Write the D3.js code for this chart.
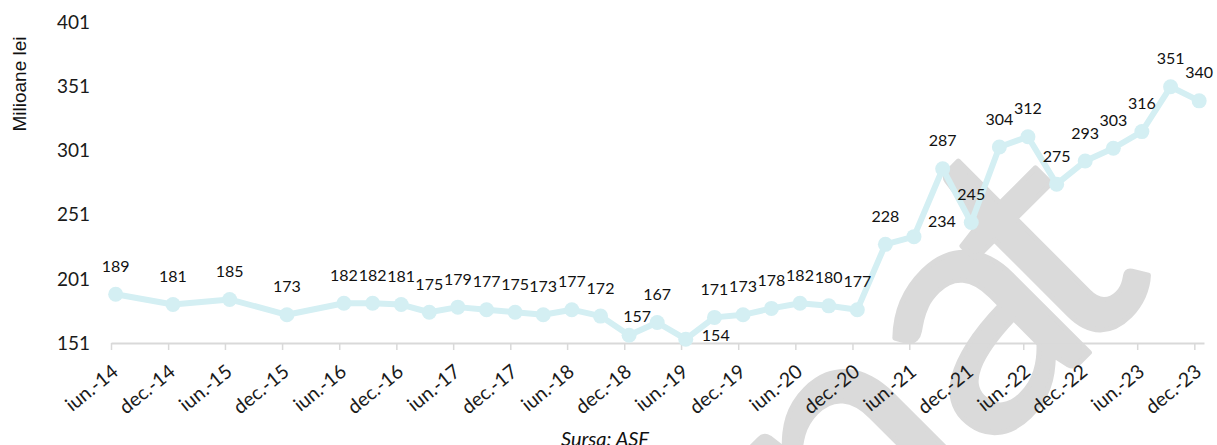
<!DOCTYPE html>
<html>
<head>
<meta charset="utf-8">
<script src="https://cdn.jsdelivr.net/npm/d3@7"></script>
<style>
  body { margin: 0; background: #fff; }
  svg { display: block; }
</style>
</head>
<body>
<svg id="chart" width="1217" height="445"></svg>
<script>
// months (yyyy-mm) of each observation, semiannual first, then quarterly
var months = ["2014-06", "2014-12", "2015-06", "2015-12",
  "2016-06", "2016-09", "2016-12", "2017-03", "2017-06", "2017-09", "2017-12",
  "2018-03", "2018-06", "2018-09", "2018-12", "2019-03", "2019-06", "2019-09",
  "2019-12", "2020-03", "2020-06", "2020-09", "2020-12", "2021-03", "2021-06",
  "2021-09", "2021-12", "2022-03", "2022-06", "2022-09", "2022-12", "2023-03",
  "2023-06", "2023-09", "2023-12"];
var values = [189, 181, 185, 173, 182, 182, 181, 175, 179, 177, 175, 173, 177, 172,
  157, 167, 154, 171, 173, 178, 182, 180, 177, 228, 234, 287, 245, 304, 312, 275,
  293, 303, 316, 351, 340];

var xTickMonths = ["2014-06", "2014-12", "2015-06", "2015-12", "2016-06", "2016-12",
  "2017-06", "2017-12", "2018-06", "2018-12", "2019-06", "2019-12", "2020-06",
  "2020-12", "2021-06", "2021-12", "2022-06", "2022-12", "2023-06", "2023-12"];
var xTickLabels = ["iun.-14", "dec.-14", "iun.-15", "dec.-15", "iun.-16", "dec.-16",
  "iun.-17", "dec.-17", "iun.-18", "dec.-18", "iun.-19", "dec.-19", "iun.-20",
  "dec.-20", "iun.-21", "dec.-21", "iun.-22", "dec.-22", "iun.-23", "dec.-23"];
var yTicks = [151, 201, 251, 301, 351, 401];

var yTitle = "Milioane lei";
var source = "Sursa: ASF";

var svg = d3.select("#chart");
var parseMonth = d3.timeParse("%Y-%m");

// some labels were dragged by hand in the original
var labelNudge = { 14: [8, 9], 16: [30, 24], 24: [28, 13] };

var x = d3.scaleTime()
  .domain([parseMonth("2014-06"), parseMonth("2024-01")])
  .range([111, 1204]);
var y = d3.scaleLinear().domain([151, 401]).range([343, 22.7]);

// point sits in the middle of its month slot
function midMonth(m) {
  var d = parseMonth(m);
  return (x(d) + x(d3.timeMonth.offset(d, 1))) / 2;
}

var data = months.map(function(m, i) { return { m: m, v: values[i], i: i }; });

// watermark behind everything
var wm = svg.append("text")
  .attr("transform", "translate(1160,282) rotate(-45)")
  .attr("text-anchor", "end")
  .style("font-family", "Lato, 'Open Sans', sans-serif")
  .style("font-size", "340px")
  .style("fill", "#dadada")
  .style("stroke", "#dadada")
  .style("stroke-width", 5)
  .style("stroke-linejoin", "round");
wm.append("tspan").text("na");
wm.append("tspan").attr("dx", -42).text("t");

// x axis
var xAxis = svg.append("g")
  .attr("transform", "translate(0,343)")
  .call(d3.axisBottom(x)
    .tickValues(xTickMonths.map(parseMonth))
    .tickSize(7)
    .tickSizeOuter(0)
    .tickFormat(function(d, i) { return xTickLabels[i]; }));
xAxis.select(".domain").attr("stroke", "#d9d9d9").attr("stroke-width", 2);
xAxis.selectAll(".tick line").attr("stroke", "#d9d9d9").attr("stroke-width", 1.5);
xAxis.selectAll(".tick text")
  .attr("y", 0).attr("dy", 0)
  .attr("text-anchor", "end")
  .attr("transform", "translate(8,31) rotate(-39)")
  .style("font-family", "Lato, sans-serif")
  .style("font-size", "19.5px")
  .style("fill", "#1a1a1a");

// y axis labels only
var yAxis = svg.append("g")
  .attr("transform", "translate(90,0)")
  .call(d3.axisLeft(y).tickValues(yTicks).tickSize(0).tickPadding(0));
yAxis.select(".domain").remove();
yAxis.selectAll(".tick text")
  .style("font-family", "Lato, sans-serif")
  .style("font-size", "19px")
  .style("fill", "#1a1a1a");

svg.append("text")
  .attr("transform", "translate(26,84) rotate(-90)")
  .attr("text-anchor", "middle")
  .style("font-family", "'Liberation Sans', Arial, sans-serif")
  .style("font-size", "19px")
  .style("fill", "#111")
  .text(yTitle);

// the line
var line = d3.line()
  .x(function(d) { return midMonth(d.m); })
  .y(function(d) { return y(d.v); });

svg.append("path")
  .datum(data)
  .attr("fill", "none")
  .attr("stroke", "#d4eff3")
  .attr("stroke-width", 6)
  .attr("stroke-linejoin", "round")
  .attr("d", line);

svg.selectAll(".dot")
  .data(data)
  .enter().append("circle")
  .attr("class", "dot")
  .attr("cx", function(d) { return midMonth(d.m); })
  .attr("cy", function(d) { return y(d.v); })
  .attr("r", 7.5)
  .attr("fill", "#d4eff3");

svg.selectAll(".lbl")
  .data(data)
  .enter().append("text")
  .attr("class", "lbl")
  .attr("x", function(d) {
    var n = labelNudge[d.i];
    return midMonth(d.m) + (n ? n[0] : 0);
  })
  .attr("y", function(d) {
    var n = labelNudge[d.i];
    return y(d.v) - 28 + (n ? n[1] : 0);
  })
  .attr("dy", "0.35em")
  .attr("text-anchor", "middle")
  .style("font-family", "Lato, sans-serif")
  .style("font-size", "16px")
  .style("fill", "#111")
  .text(function(d) { return d.v; });

svg.append("text")
  .attr("x", 605).attr("y", 446)
  .attr("text-anchor", "middle")
  .style("font-family", "Lato, sans-serif")
  .style("font-style", "italic")
  .style("font-size", "20px")
  .style("fill", "#111")
  .text(source);
</script>
</body>
</html>
